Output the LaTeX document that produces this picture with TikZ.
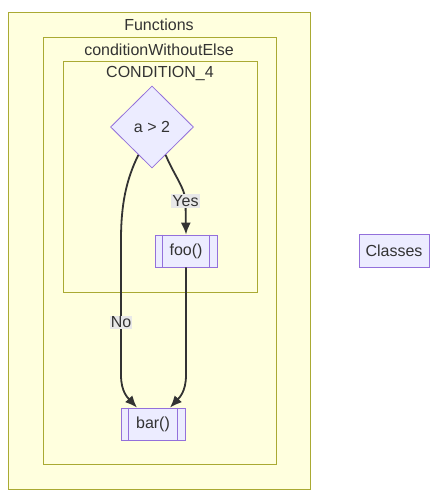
\documentclass[tikz,border=0pt]{standalone}
\usepackage{fontspec}
\setmainfont{Liberation Sans}
\usetikzlibrary{shapes.geometric,arrows.meta}
\definecolor{clfill}{HTML}{FFFFDE}
\definecolor{cldraw}{HTML}{AAAA33}
\definecolor{ndfill}{HTML}{ECECFF}
\definecolor{nddraw}{HTML}{9370DB}
\definecolor{txt}{HTML}{333333}
\definecolor{lblbg}{HTML}{E8E8E8}

\begin{document}
\begin{tikzpicture}[x=1pt,y=-1pt,
    font=\fontsize{16}{19}\selectfont, text=txt,
    cluster/.style={draw=cldraw,fill=clfill,line width=0.8pt},
    box/.style={draw=nddraw,fill=ndfill,line width=0.8pt,rectangle,inner sep=0pt},
    flow/.style={draw=txt,line width=1.8pt,-{Latex[length=12pt,width=10pt]}},
    lbl/.style={fill=lblbg,inner sep=1pt,text=txt}]
  \useasboundingbox (0,0) rectangle (445,503);
  % clusters
  \draw[cluster] (8,12)  rectangle (310,489);
  \draw[cluster] (43,37) rectangle (276,464);
  \draw[cluster] (63,61) rectangle (257,292);
  \node (tFunctions) at (159,25) {Functions};
  \node (tCondition) at (159,50) {conditionWithoutElse};
  \node (tCondFour)  at (160,74) {CONDITION\_4};
  % nodes
  \node[box,diamond,minimum width=83pt,minimum height=82pt] (cond) at (152,127) {a > 2};
  \node[box,minimum width=62pt,minimum height=32pt] (foo) at (186,251) {foo()};
  \node[box,minimum width=64pt,minimum height=32pt] (bar) at (153,424) {bar()};
  \node[box,minimum width=70pt,minimum height=33pt] (classes) at (394,250.5) {Classes};
  \foreach \n in {foo,bar}{% subroutine side bars
    \draw[nddraw,line width=0.8pt] ([xshift=8pt]\n.north west) -- ([xshift=8pt]\n.south west);
    \draw[nddraw,line width=0.8pt] ([xshift=-8pt]\n.north east) -- ([xshift=-8pt]\n.south east);
  }
  % edges
  \draw[flow] (cond.-64) .. controls (174,175) and (185,188) .. (185.5,201)
     node[lbl] {Yes} -- (foo.north);
  \draw[flow] (cond.-116) .. controls (126,180) and (121,205) .. (121,240)
     -- node[lbl,pos=0.61] {No} (121,375) .. controls (121,392) and (128,398) .. ([xshift=-16pt]bar.north);
  \draw[flow] (foo.south) -- (186,375) .. controls (186,392) and (179,398) .. ([xshift=17pt]bar.north);
\end{tikzpicture}
\end{document}
